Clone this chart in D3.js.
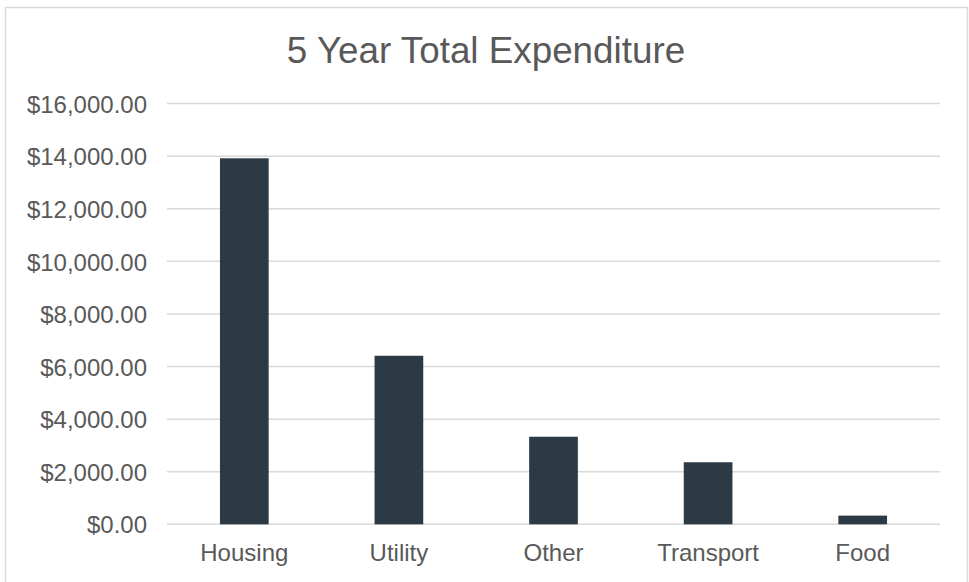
<!DOCTYPE html>
<html>
<head>
<meta charset="utf-8">
<script src="https://cdn.jsdelivr.net/npm/d3@7"></script>
<style>
  html, body { margin: 0; padding: 0; background: #ffffff; }
  svg { display: block; }
  text { font-family: "Liberation Sans", Arial, sans-serif; fill: #595959; }
</style>
</head>
<body>
<script>
const categories = ["Housing", "Utility", "Other", "Transport", "Food"];
const values = [13920, 6410, 3330, 2360, 330];
const yTicks = [0, 2000, 4000, 6000, 8000, 10000, 12000, 14000, 16000];
const title = "5 Year Total Expenditure";

const W = 969, H = 582;
const svg = d3.select("body").append("svg").attr("width", W).attr("height", H);

// chart border
svg.append("rect").attr("x", 5.5).attr("y", 7.5).attr("width", 962).attr("height", 600)
  .attr("fill", "#ffffff").attr("stroke", "#d9d9d9").attr("stroke-width", 1.5);

const x = d3.scaleBand().domain(categories).range([167, 940]).paddingInner(0.685).paddingOuter(0.3425);
const y = d3.scaleLinear().domain([0, 16000]).range([524.3, 103.6]);

// gridlines
svg.append("g").selectAll("line").data(yTicks).join("line")
  .attr("x1", 167).attr("x2", 940)
  .attr("y1", d => y(d)).attr("y2", d => y(d))
  .attr("stroke", "#d9d9d9").attr("stroke-width", 1.5);

// y axis labels
const fmt = d3.format("$,.2f");
const yAxis = d3.axisLeft(y).tickValues(yTicks).tickFormat(fmt).tickSize(0).tickPadding(0);
const yg = svg.append("g").attr("transform", "translate(147,0)").call(yAxis);
yg.select(".domain").remove();
yg.selectAll(".tick text")
  .attr("x", 0).attr("dy", "0.36em")
  .style("font-size", "24px")
  .style("font-family", "Liberation Sans, Arial, sans-serif")
  .attr("fill", "#595959");

// bars
svg.append("g").selectAll("rect").data(values).join("rect")
  .attr("x", (d, i) => x(categories[i]))
  .attr("width", x.bandwidth())
  .attr("y", d => y(d))
  .attr("height", d => y(0) - y(d))
  .attr("fill", "#2c3a46");

// x axis labels
const xAxis = d3.axisBottom(x).tickSize(0).tickPadding(0);
const xg = svg.append("g").attr("transform", "translate(0,524.3)").call(xAxis);
xg.select(".domain").remove();
xg.selectAll(".tick text")
  .attr("y", 0).attr("dy", "37px")
  .style("font-size", "24px")
  .style("font-family", "Liberation Sans, Arial, sans-serif")
  .attr("fill", "#595959");

// title
svg.append("text").attr("x", 486).attr("y", 63).attr("text-anchor", "middle")
  .style("font-size", "36.8px").text(title);
</script>
</body>
</html>
